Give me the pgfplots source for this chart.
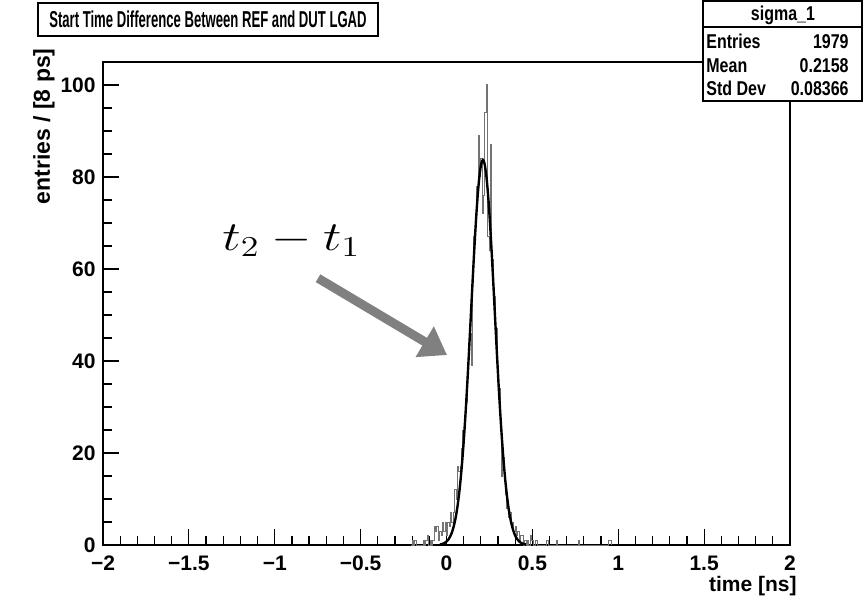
\documentclass[border=0pt]{standalone}
\usepackage{pgfplots}
\pgfplotsset{compat=1.18}
\usepackage{fontspec}
\setmainfont{Liberation Sans}
\usetikzlibrary{arrows.meta}

\begin{document}
\begin{tikzpicture}
\useasboundingbox (-51.5pt,-25.5pt) rectangle (380.5pt,272.5pt);
\begin{axis}[
    at={(0pt,0pt)}, anchor=south west,
    scale only axis,
    width=343.5pt, height=241.5pt,
    xmin=-2, xmax=2, ymin=0, ymax=105,
    axis line style={line width=0.75pt},
    tick align=inside,
    xtick pos=bottom, ytick pos=left,
    xtick={-2,-1.5,-1,-0.5,0,0.5,1,1.5,2},
    xticklabels={−2,−1.5,−1,−0.5,0,0.5,1,1.5,2},
    ytick={0,20,40,60,80,100},
    yticklabels={0,20,40,60,80,100},
    minor x tick num=4, minor y tick num=3,
    major tick length=8pt, minor tick length=4.5pt,
    tick style={line width=0.6pt, black},
    ticklabel style={font=\fontsize{10.5}{12}\selectfont\bfseries},
    xticklabel style={anchor=base, yshift=-12.5pt},
    yticklabel style={anchor=east, inner sep=0pt, xshift=-3.5pt},
    clip=false,
]
% histogram, 8 ps bins (lower edge, entries)
\addplot[const plot mark left, black!55, line width=0.5pt] coordinates {
(-0.208,0) (-0.200,1) (-0.192,0) (-0.184,1) (-0.176,0) (-0.136,1) (-0.128,0)
(-0.120,1) (-0.112,2) (-0.104,0) (-0.096,1) (-0.088,0) (-0.080,1) (-0.072,4)
(-0.064,3) (-0.056,4) (-0.048,1) (-0.040,3) (-0.032,2) (-0.024,5) (-0.016,3)
(-0.008,5) (0.000,2) (0.008,5) (0.016,4) (0.024,7) (0.032,5) (0.040,7)
(0.048,12) (0.056,10) (0.064,17) (0.072,16) (0.080,17) (0.088,21) (0.096,25)
(0.104,28) (0.112,31) (0.120,37) (0.128,44) (0.136,46) (0.144,39) (0.152,57)
(0.160,67) (0.168,69) (0.176,78) (0.184,89) (0.192,80) (0.200,84) (0.208,72)
(0.216,76) (0.224,94) (0.232,100) (0.240,67) (0.248,64) (0.256,87) (0.264,62)
(0.272,56) (0.280,54) (0.288,47) (0.296,37) (0.304,34) (0.312,27) (0.320,15)
(0.328,19) (0.336,14) (0.344,11) (0.352,8) (0.360,6) (0.368,7) (0.376,4)
(0.384,5) (0.392,3) (0.400,4) (0.408,2) (0.416,3) (0.424,1) (0.432,2)
(0.440,2) (0.448,0) (0.456,1) (0.464,0) (0.472,1) (0.480,0) (0.488,2)
(0.496,1) (0.504,0) (0.520,1) (0.528,0) (0.584,1) (0.592,0) (0.640,1)
(0.648,0) (0.768,1) (0.776,0) (0.944,1) (0.952,1) (0.960,0)
};
% gaussian fit
\addplot[black, line width=1.2pt, smooth] coordinates {
(-0.038,0.12) (-0.028,0.20) (-0.018,0.32) (-0.008,0.52) (0.002,0.82)
(0.012,1.25) (0.022,1.89) (0.032,2.79) (0.042,4.03) (0.052,5.69)
(0.062,7.88) (0.072,10.69) (0.082,14.19) (0.092,18.45) (0.102,23.49)
(0.112,29.29) (0.122,35.75) (0.132,42.74) (0.142,50.03) (0.152,57.35)
(0.162,64.37) (0.172,70.75) (0.182,76.15) (0.192,80.26) (0.202,82.83)
(0.212,83.70)
(0.222,82.83) (0.232,80.26) (0.242,76.15) (0.252,70.75) (0.262,64.37)
(0.272,57.35) (0.282,50.03) (0.292,42.74) (0.302,35.75) (0.312,29.29)
(0.322,23.49) (0.332,18.45) (0.342,14.19) (0.352,10.69) (0.362,7.88)
(0.372,5.69) (0.382,4.03) (0.392,2.79) (0.402,1.89) (0.412,1.25)
(0.422,0.82) (0.432,0.52) (0.442,0.32) (0.452,0.20) (0.462,0.12)
};
\draw[-{Triangle[length=13pt,width=17pt]}, line width=4.5pt, black!50]
  (axis cs:-0.748,58.0) -- (axis cs:0.003,41.3);
\node[anchor=base west, inner sep=0pt] at (axis cs:-1.307,64.1)
  {\scalebox{1.25}[1]{\fontsize{20}{24}\selectfont $t_2 - t_1$}};
\end{axis}
% axis titles
\node[rotate=90, anchor=base east, inner sep=0pt,
  font=\fontsize{11.5}{13}\selectfont\bfseries] at (-26.5pt,248.5pt) {entries / [8 ps]};
\node[anchor=base east, inner sep=0pt,
  font=\fontsize{10.5}{12}\selectfont\bfseries] at (347pt,-23pt) {time [ns]};
% title box
\node[draw, line width=0.7pt, fill=white, minimum width=170pt, minimum height=16.5pt,
  inner sep=0pt] at (52.5pt,262.75pt)
  {\scalebox{0.57}[1]{\fontsize{11.5}{13}\selectfont\bfseries Start Time Difference Between REF and DUT LGAD}};
% stats box
\draw[line width=0.7pt, fill=white] (300pt,222pt) rectangle (379.5pt,272pt);
\draw[line width=0.7pt] (300pt,259pt) -- (379.5pt,259pt);
\begin{scope}[every node/.style={inner sep=0pt}]
\node[anchor=base] at (340pt,262pt) {\scalebox{0.8}[1]{\fontsize{10}{11}\selectfont\bfseries sigma\_1}};
\node[anchor=base west] at (301.5pt,248pt) {\scalebox{0.8}[1]{\fontsize{10}{11}\selectfont\bfseries Entries}};
\node[anchor=base east] at (373pt,248pt) {\scalebox{0.8}[1]{\fontsize{10}{11}\selectfont\bfseries 1979}};
\node[anchor=base west] at (301.5pt,236.5pt) {\scalebox{0.8}[1]{\fontsize{10}{11}\selectfont\bfseries Mean}};
\node[anchor=base east] at (373pt,236.5pt) {\scalebox{0.8}[1]{\fontsize{10}{11}\selectfont\bfseries 0.2158}};
\node[anchor=base west] at (301.5pt,225pt) {\scalebox{0.8}[1]{\fontsize{10}{11}\selectfont\bfseries Std Dev}};
\node[anchor=base east] at (373pt,225pt) {\scalebox{0.8}[1]{\fontsize{10}{11}\selectfont\bfseries 0.08366}};
\end{scope}
\end{tikzpicture}
\end{document}
